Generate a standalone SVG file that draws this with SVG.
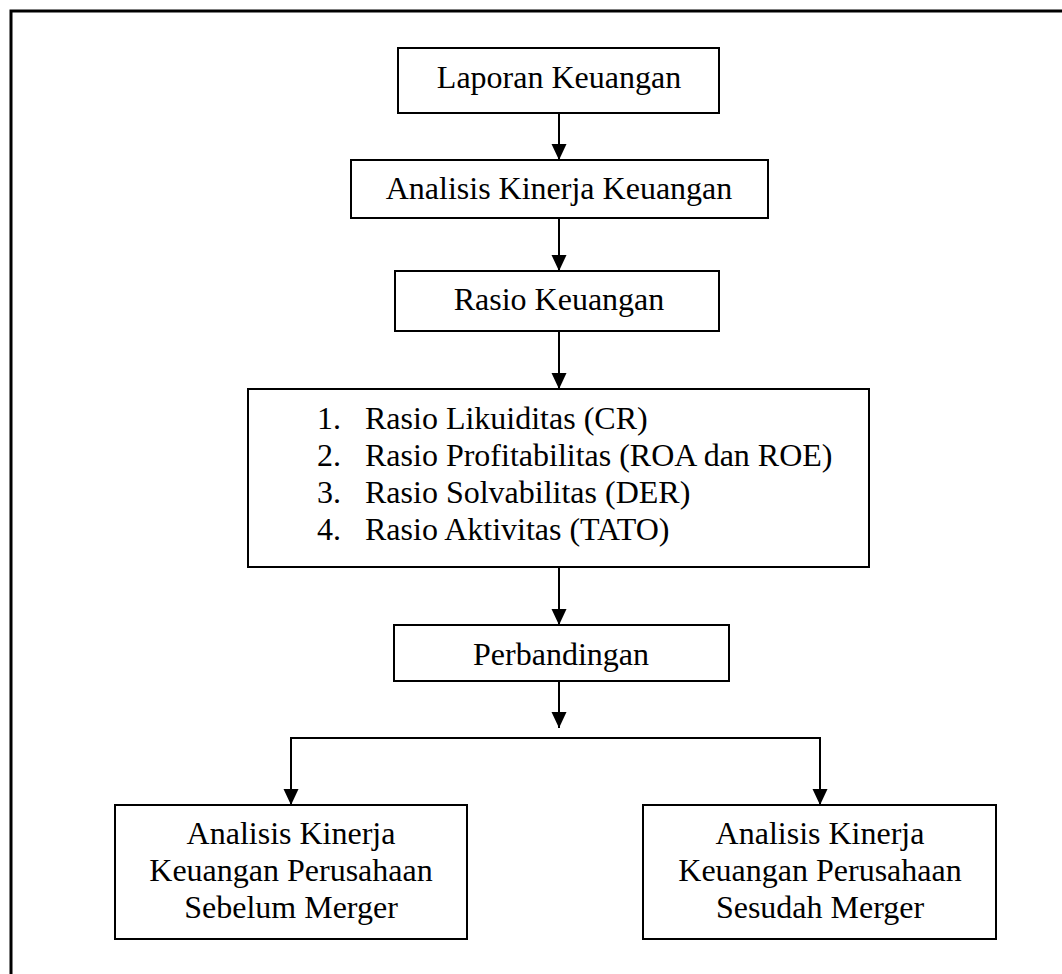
<svg xmlns="http://www.w3.org/2000/svg" width="1062" height="974" viewBox="0 0 1062 974">
<defs>
<style>
.box{fill:#fff;stroke:#000;stroke-width:2}
.t{font-family:"Liberation Serif","Times New Roman",serif;font-size:32px;fill:#000}
.c{text-anchor:middle}
.ln{fill:none;stroke:#000;stroke-width:2}
</style>
<marker id="ah" markerUnits="userSpaceOnUse" markerWidth="16" markerHeight="16" refX="16" refY="7.5" orient="auto">
<path d="M0,0 L16,7.5 L0,15 z" fill="#000"/>
</marker>
</defs>
<rect width="1062" height="974" fill="#fff"/>
<path d="M11,974 V11 H1062" fill="none" stroke="#000" stroke-width="3"/>
<g id="connectors">
<line class="ln" x1="559" y1="113" x2="559" y2="160" marker-end="url(#ah)"/>
<line class="ln" x1="559" y1="218" x2="559" y2="271" marker-end="url(#ah)"/>
<line class="ln" x1="559" y1="331" x2="559" y2="389" marker-end="url(#ah)"/>
<line class="ln" x1="559" y1="567" x2="559" y2="625" marker-end="url(#ah)"/>
<line class="ln" x1="559" y1="681" x2="559" y2="728" marker-end="url(#ah)"/>
<path class="ln" d="M291,738 H820"/>
<line class="ln" x1="291" y1="737" x2="291" y2="805" marker-end="url(#ah)"/>
<line class="ln" x1="820" y1="737" x2="820" y2="805" marker-end="url(#ah)"/>
</g>
<g id="n1">
<rect class="box" x="398" y="48" width="321" height="65"/>
<text class="t c" x="559" y="88">Laporan Keuangan</text>
</g>
<g id="n2">
<rect class="box" x="351" y="160" width="417" height="58"/>
<text class="t c" x="559" y="199">Analisis Kinerja Keuangan</text>
</g>
<g id="n3">
<rect class="box" x="395" y="271" width="324" height="60"/>
<text class="t c" x="559" y="310">Rasio Keuangan</text>
</g>
<g id="n4">
<rect class="box" x="248" y="389" width="621" height="178"/>
<text class="t" x="317" y="429">1.</text>
<text class="t" x="365" y="429">Rasio Likuiditas (CR)</text>
<text class="t" x="317" y="466">2.</text>
<text class="t" x="365" y="466">Rasio Profitabilitas (ROA dan ROE)</text>
<text class="t" x="317" y="503">3.</text>
<text class="t" x="365" y="503">Rasio Solvabilitas (DER)</text>
<text class="t" x="317" y="540">4.</text>
<text class="t" x="365" y="540">Rasio Aktivitas (TATO)</text>
</g>
<g id="n5">
<rect class="box" x="394" y="625" width="335" height="56"/>
<text class="t c" x="561" y="665">Perbandingan</text>
</g>
<g id="n6">
<rect class="box" x="115" y="805" width="352" height="134"/>
<text class="t c" x="291" y="844">Analisis Kinerja</text>
<text class="t c" x="291" y="881">Keuangan Perusahaan</text>
<text class="t c" x="291" y="918">Sebelum Merger</text>
</g>
<g id="n7">
<rect class="box" x="643" y="805" width="353" height="134"/>
<text class="t c" x="820" y="844">Analisis Kinerja</text>
<text class="t c" x="820" y="881">Keuangan Perusahaan</text>
<text class="t c" x="820" y="918">Sesudah Merger</text>
</g>
</svg>
